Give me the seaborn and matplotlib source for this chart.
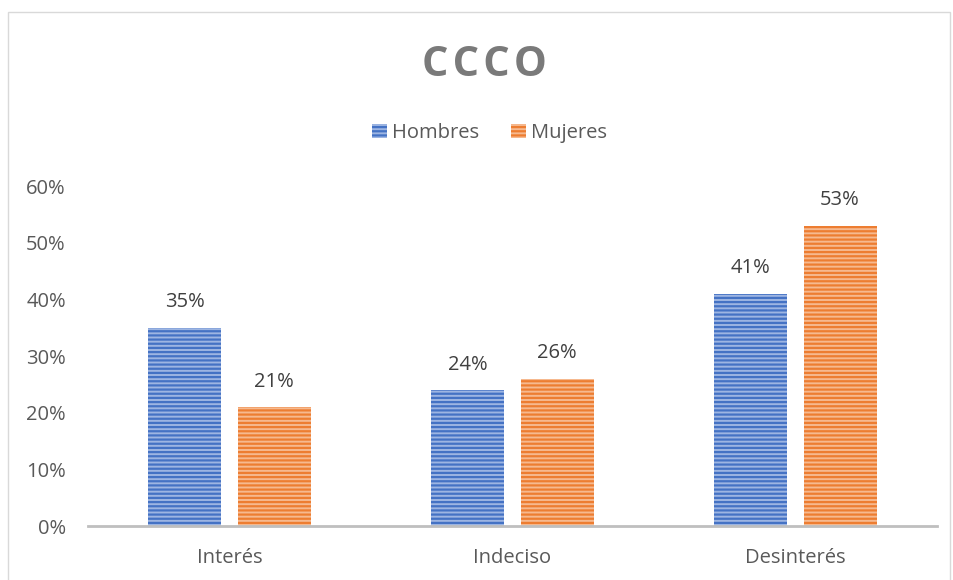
import numpy as np
import pandas as pd
import matplotlib
matplotlib.use("Agg")
import matplotlib.pyplot as plt
import seaborn as sns
from matplotlib.patches import Rectangle, Patch

# data
categorias = ["Interés", "Indeciso", "Desinterés"]
hombres = [0.35, 0.24, 0.41]
mujeres = [0.21, 0.26, 0.53]
grupos = ["Hombres", "Mujeres"]

df = pd.DataFrame({
    "categoria": categorias * 2,
    "grupo": ["Hombres"] * 3 + ["Mujeres"] * 3,
    "valor": hombres + mujeres,
})

sns.set_theme(style="white")
plt.rcParams["font.family"] = ["Open Sans", "DejaVu Sans"]
plt.rcParams["hatch.linewidth"] = 1.6

azul = "#4472C4"
naranja = "#ED7D31"
fondo = {"Hombres": "#9DB5E2", "Mujeres": "#F6B98F"}
color = {"Hombres": azul, "Mujeres": naranja}
fs = 14.5

fig = plt.figure(figsize=(9.54, 5.80), dpi=100)
ax = fig.add_axes([88 / 954, 1 - 526 / 580, 849 / 954, 340 / 580])

sns.barplot(data=df, x="categoria", y="valor", hue="grupo", order=categorias,
            hue_order=grupos, width=0.63, gap=0.18, ax=ax, legend=False)

for bar_cont, g in zip(ax.containers, grupos):
    for b in bar_cont:
        b.set_facecolor(fondo[g])
        b.set_edgecolor(color[g])
        b.set_hatch("----")
        b.set_linewidth(0)
    ax.bar_label(bar_cont, labels=[f"{v*100:.0f}%" for v in bar_cont.datavalues],
                 padding=11, fontsize=fs, color="#404040")

ax.set_ylim(0, 0.6)
ax.set_xlim(-0.5, 2.5)
ax.set_yticks(np.arange(0, 0.61, 0.1))
ax.set_yticklabels([f"{t}%" for t in range(0, 61, 10)], fontsize=fs, color="#595959")
ax.tick_params(axis="x", labelsize=fs, labelcolor="#595959", pad=16, length=0)
ax.tick_params(axis="y", length=0, pad=16)
ax.set_xlabel("")
ax.set_ylabel("")
for s in ["top", "right", "left"]:
    ax.spines[s].set_visible(False)
ax.spines["bottom"].set_color("#BFBFBF")
ax.spines["bottom"].set_linewidth(2)

fig.text(0.508, 1 - 66 / 580, "C\u200aC\u200aC\u200aO", ha="center", va="center", fontsize=30,
         fontweight="bold", color="#7A7A7A")

handles = [Patch(facecolor=fondo[g], edgecolor=color[g], hatch="----", linewidth=0) for g in grupos]
fig.legend(handles, grupos, loc="center", bbox_to_anchor=(0.513, 1 - 133 / 580), ncol=2,
           frameon=False, fontsize=fs, handlelength=0.75, handleheight=0.75,
           handletextpad=0.25, columnspacing=1.6, labelcolor="#595959")

fig.patches.append(Rectangle((8 / 954, -0.01), 942 / 954, 1 - 12 / 580 + 0.01,
                             transform=fig.transFigure, fill=False,
                             edgecolor="#D9D9D9", linewidth=1))

fig.savefig("out.png", dpi=100)
